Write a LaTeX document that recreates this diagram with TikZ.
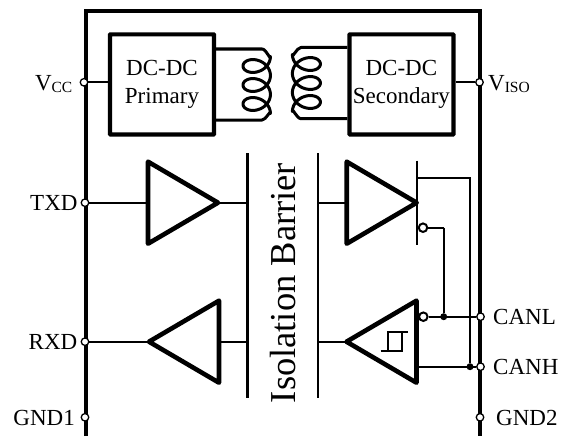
\documentclass[tikz,border=0pt]{standalone}
\usepackage{fontspec}
\setmainfont{Liberation Serif}
\usetikzlibrary{shapes.geometric}
\newcommand{\subpin}[1]{\raisebox{-2.5pt}{\fontsize{15.5}{16}\selectfont #1}}
\tikzset{
	frameline/.style={line width=3.4pt},
	thickbox/.style={draw,line width=4.2pt,rounded corners=0.5pt,minimum width=104pt,minimum height=100pt,inner sep=0pt,align=center,font=\fontsize{23}{28}\selectfont},
	wire/.style={line width=2.2pt},
	coilwire/.style={line width=3pt,line join=round,domain=0:1080,samples=180,smooth},
	buffer/.style={draw,isosceles triangle,isosceles triangle stretches,line width=4.6pt,line join=round,inner sep=0pt,outer sep=0pt,minimum height=70pt,minimum width=82pt},
	pinnode/.style={draw,circle,fill=white,line width=1.3pt,minimum size=7.5pt,inner sep=0pt},
	bubble/.style={draw,circle,fill=white,line width=2pt,minimum size=8.5pt,inner sep=0pt},
	joint/.style={fill,circle,minimum size=7pt,inner sep=0pt},
	pinlabel/.style={font=\fontsize{23}{27}\selectfont,inner sep=0pt}
}
\begin{document}
\begin{tikzpicture}[x=1pt,y=-1pt]
			\useasboundingbox (0,0) rectangle (569,436);
			\draw[frameline] (86,436) -- (86,11) -- (480,11) -- (480,436);
			% power converters
			\node[thickbox] (prim) at (162,84.4) {DC-DC\\Primary};
			\node[thickbox] (sec) at (401.4,84.4) {DC-DC\\Secondary};
			\draw[coilwire] ([yshift=35.4pt]prim.east) -- (262,49) to[out=0,in=-90] (270.4,56.5) -- plot ({256.7+13.7*cos(\x)},{56.5+\x/18.95+10.75*sin(\x)}) to[out=90,in=0] (262,120) -- ([yshift=-35.6pt]prim.east);
			\draw[coilwire] ([yshift=36.9pt]sec.west) -- (301,47.5) to[out=180,in=-90] (292.4,54.5) -- plot ({306.4-14*cos(\x)},{54.5+\x/18.95+10.75*sin(\x)}) to[out=90,in=180] (301,118.7) -- ([yshift=-34.3pt]sec.west);
			% barrier
			\coordinate (bl1) at (247.5,153);
			\coordinate (bl2) at (247.5,398);
			\coordinate (br1) at (318,153);
			\coordinate (br2) at (318,398);
			\path[wire] (bl1) edge (bl2) (br1) edge (br2);
			\node[font=\fontsize{36.5}{37}\selectfont,rotate=90,inner sep=0pt] (iso) at (283,283) {Isolation Barrier};
			% buffers
			\node[buffer,anchor=west] (txa) at (148,202.7) {};
			\node[buffer,anchor=west] (txb) at (346.7,202.7) {};
			\node[buffer,shape border rotate=180,anchor=east] (rxa) at (219,341.7) {};
			\node[buffer,shape border rotate=180,anchor=east] (rxb) at (416.5,341.7) {};
			% bar at the driver tip
			\coordinate (bar1) at (417.3,160.7);
			\coordinate (bar2) at (417.3,245);
			\coordinate (bar3) at (417.3,178);
			\coordinate (bend) at (470,178);
			\coordinate (kink) at (443.7,227.7);
			\path[wire] (bar1) edge (bar2);
			% pins
			\node[pinnode] (vcc) at (84,82.3) {};
			\node[pinnode] (txd) at (85,202.7) {};
			\node[pinnode] (rxd) at (85,341.7) {};
			\node[pinnode] (gnda) at (85,417.3) {};
			\node[pinnode] (viso) at (479.5,82.3) {};
			\node[pinnode] (canl) at (480.5,316.7) {};
			\node[pinnode] (canh) at (480.5,366.7) {};
			\node[pinnode] (gndb) at (480,417.3) {};
			\node[bubble] (bub1) at (423,227.7) {};
			\node[bubble] (bub2) at (423.3,316.7) {};
			\node[joint] (dotl) at (443.7,316.7) {};
			\node[joint] (doth) at (470,366.7) {};
			\path[wire]
			(vcc) edge (prim.west |- vcc)
			(sec.east |- viso) edge (viso)
			(txd) edge (txa.west)
			(txa.east) edge (bl1 |- txa)
			(br1 |- txb) edge (txb.west)
			(rxd) edge (rxa.west)
			(rxa.east) edge (bl1 |- rxa)
			(br1 |- rxb) edge (rxb.west)
			(bub2) edge (canl)
			(rxb.east |- canh) edge (canh)
			(bub1) edge (kink)
			(kink) edge (dotl);
			\draw[wire] (bar3) -- (bend) -- (doth);
			% hysteresis
			\coordinate (hy1) at (380.7,351);
			\coordinate (hy2) at (401.7,351);
			\coordinate (hy3) at (401.7,332.3);
			\coordinate (hy4) at (388.3,351);
			\coordinate (hy5) at (388.3,332.3);
			\coordinate (hy6) at (408.3,332.3);
			\draw[line width=1.7pt] (hy1) -- (hy2) -- (hy3);
			\draw[line width=1.7pt] (hy4) -- (hy5) -- (hy6);
			% labels
			\node[pinlabel,anchor=base east] (vcclab) at (72.5,90) {V\subpin{CC}};
			\node[pinlabel,anchor=base east] (txdlab) at (77.7,210.7) {TXD};
			\node[pinlabel,anchor=base east] (rxdlab) at (77.5,349.5) {RXD};
			\node[pinlabel,anchor=base east] (gndalab) at (75,425) {GND1};
			\node[pinlabel,anchor=base west] (visolab) at (488,90) {V\subpin{ISO}};
			\node[pinlabel,anchor=base west] (canllab) at (493,324.5) {CANL};
			\node[pinlabel,anchor=base west] (canhlab) at (493,374.5) {CANH};
			\node[pinlabel,anchor=base west] (gndblab) at (496,425) {GND2};
		\end{tikzpicture}
\end{document}
